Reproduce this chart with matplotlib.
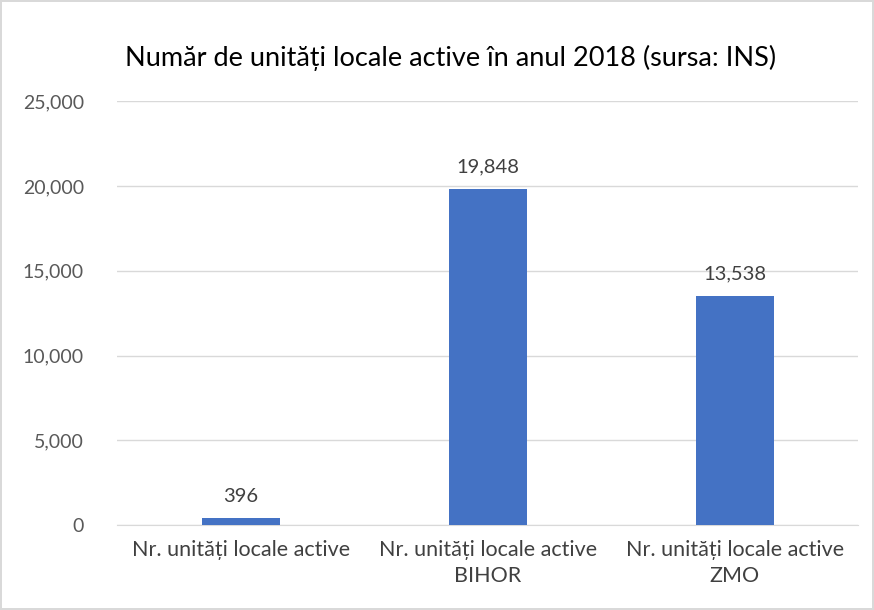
import matplotlib.pyplot as plt
from matplotlib.ticker import FuncFormatter

categories = ["Nr. unități locale active", "Nr. unități locale active\nBIHOR", "Nr. unități locale active\nZMO"]
values = [396, 19848, 13538]
yticks = [0, 5000, 10000, 15000, 20000, 25000]

plt.rcParams["font.family"] = ["Lato", "DejaVu Sans"]
TXT = "#595959"

fig = plt.figure(figsize=(8.74, 6.10), dpi=100)
fig.patch.set_edgecolor("#d9d9d9")
fig.patch.set_linewidth(1.5)
ax = fig.add_axes([0.134, 0.139, 0.848, 0.695])

x = range(len(categories))
ax.bar(x, values, width=0.315, color="#4472c4", zorder=3)
for xi, v in zip(x, values):
    ax.text(xi, v + 800, f"{v:,}", ha="center", va="bottom", fontsize=14.5, color="#404040")

ax.set_xlim(-0.5, 2.5)
ax.set_ylim(0, 25000)
ax.set_yticks(yticks)
ax.yaxis.set_major_formatter(FuncFormatter(lambda v, p: f"{int(v):,}"))
ax.set_xticks(list(x))
ax.set_xticklabels(categories, linespacing=1.35)
ax.tick_params(axis="both", length=0, colors=TXT)
ax.tick_params(axis="x", pad=11, labelsize=15.5, labelcolor="#404040")
ax.tick_params(axis="y", pad=24, labelsize=14)
ax.grid(axis="y", color="#d9d9d9", linewidth=1, zorder=0)
for s in ["top", "right", "left"]:
    ax.spines[s].set_visible(False)
ax.spines["bottom"].set_color("#d9d9d9")

fig.text(0.515, 0.905, "Număr de unități locale active în anul 2018 (sursa: INS)",
         ha="center", va="center", fontsize=19.5, color="#000000")

fig.savefig("out.png", dpi=100, edgecolor=fig.get_edgecolor())
